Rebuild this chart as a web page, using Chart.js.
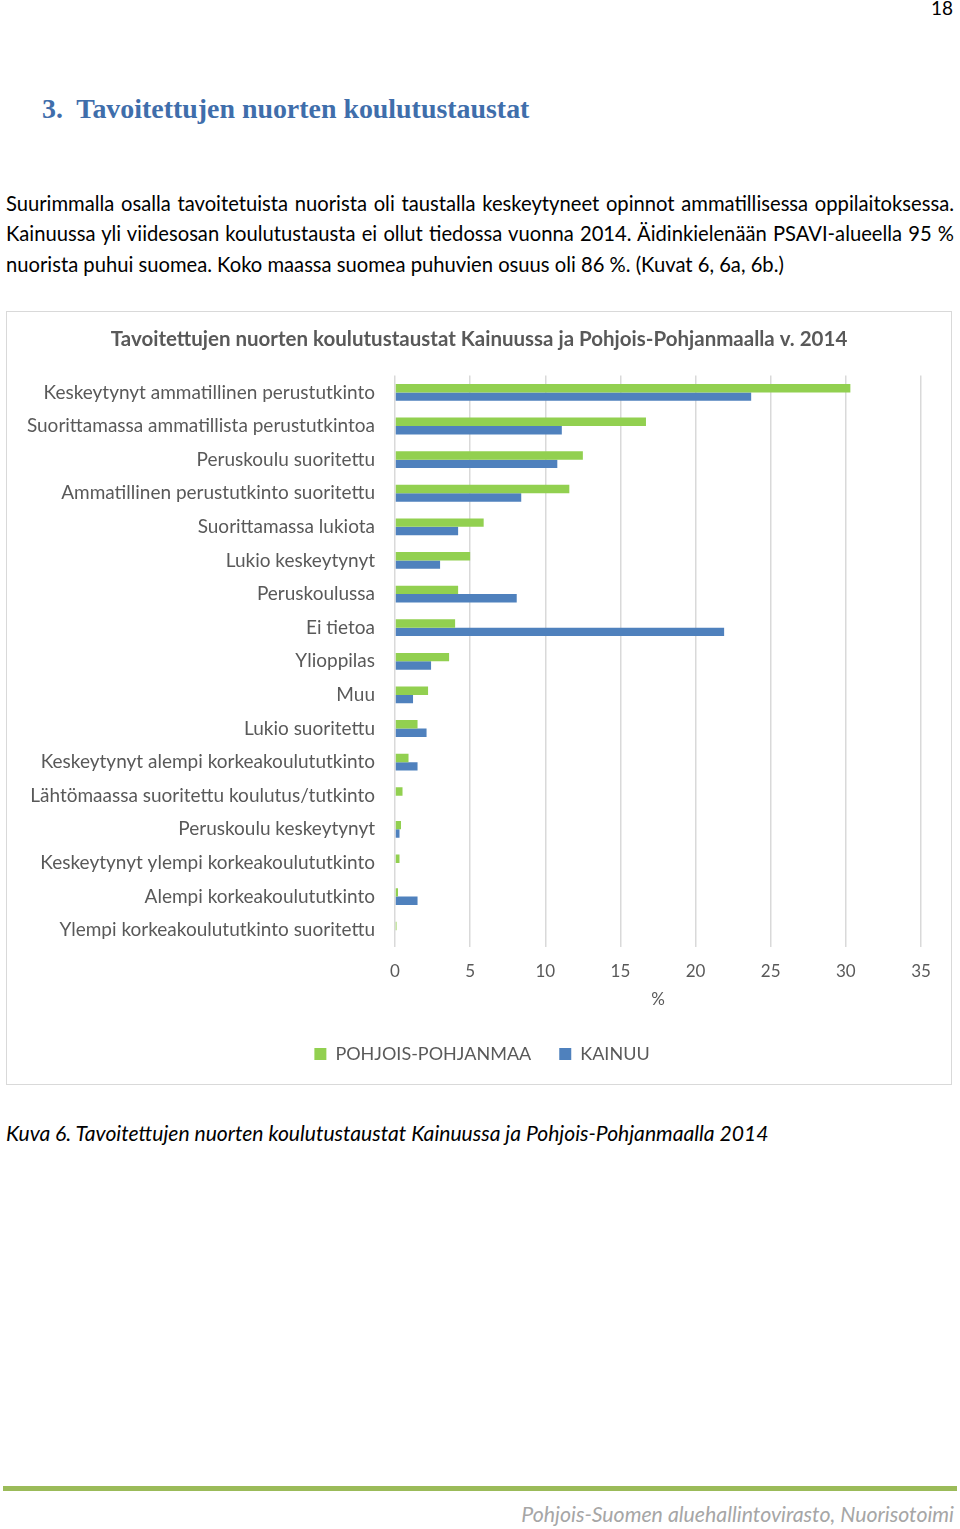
<!DOCTYPE html>
<html lang="fi">
<head>
<meta charset="utf-8">
<script src="https://cdn.jsdelivr.net/npm/chart.js@4.4.1/dist/chart.umd.min.js"></script>
<style>
  html, body { margin: 0; padding: 0; background: #fff; }
  body { width: 960px; height: 1529px; position: relative; font-family: Lato, "Open Sans", sans-serif; color: #000; overflow: hidden; }
  .pagenum { position: absolute; right: 7px; top: -4px; font-size: 19px; }
  h1 { position: absolute; left: 42px; top: 93px; margin: 0; font: bold 27.9px "Liberation Serif", "DejaVu Serif", serif; color: #3f6eab; }
  .para { position: absolute; left: 6px; top: 188px; width: 948px; font-size: 20.2px; line-height: 30.3px; }
  .para div { text-align: justify; text-align-last: justify; white-space: nowrap; }
  .para div.last { text-align-last: left; }
  .box { position: absolute; left: 6px; top: 311px; width: 944px; height: 772px; border: 1px solid #d9d9d9; }
  .box canvas { position: absolute; left: 0; top: 0; }
  .caption { position: absolute; left: 6px; top: 1120px; font-size: 21.1px; font-style: italic; }
  .rule { position: absolute; left: 3px; top: 1486px; width: 954px; height: 5px; background: #9bbb59; }
  .footer { position: absolute; right: 6px; top: 1501px; font-size: 21.3px; font-style: italic; color: #a6a6a6; }
</style>
</head>
<body>
<div class="pagenum">18</div>
<h1>3.&nbsp; Tavoitettujen nuorten koulutustaustat</h1>
<div class="para">
  <div>Suurimmalla osalla tavoitetuista nuorista oli taustalla keskeytyneet opinnot ammatillisessa oppilaitoksessa.</div>
  <div>Kainuussa yli viidesosan koulutustausta ei ollut tiedossa vuonna 2014. Äidinkielenään PSAVI-alueella 95 %</div>
  <div class="last">nuorista puhui suomea. Koko maassa suomea puhuvien osuus oli 86 %. (Kuvat 6, 6a, 6b.)</div>
</div>
<div class="box"><canvas id="chart" width="944" height="772"></canvas></div>
<div class="caption">Kuva 6. Tavoitettujen nuorten koulutustaustat Kainuussa ja Pohjois-Pohjanmaalla 2014</div>
<div class="rule"></div>
<div class="footer">Pohjois-Suomen aluehallintovirasto, Nuorisotoimi</div>

<script>
// Luokat (ylhäältä alas)
const categories = [
  'Keskeytynyt ammatillinen perustutkinto',
  'Suorittamassa ammatillista perustutkintoa',
  'Peruskoulu suoritettu',
  'Ammatillinen perustutkinto suoritettu',
  'Suorittamassa lukiota',
  'Lukio keskeytynyt',
  'Peruskoulussa',
  'Ei tietoa',
  'Ylioppilas',
  'Muu',
  'Lukio suoritettu',
  'Keskeytynyt alempi korkeakoulututkinto',
  'Lähtömaassa suoritettu koulutus/tutkinto',
  'Peruskoulu keskeytynyt',
  'Keskeytynyt ylempi korkeakoulututkinto',
  'Alempi korkeakoulututkinto',
  'Ylempi korkeakoulututkinto suoritettu'
];

// Osuudet, %
const pohjoisPohjanmaa = [30.3, 16.7, 12.5, 11.6, 5.9, 5.0, 4.2, 4.0, 3.6, 2.2, 1.5, 0.9, 0.5, 0.4, 0.3, 0.2, 0.1];
const kainuu = [23.7, 11.1, 10.8, 8.4, 4.2, 3.0, 8.1, 21.9, 2.4, 1.2, 2.1, 1.5, 0, 0.3, 0, 1.5, 0];

const xTicks = [0, 5, 10, 15, 20, 25, 30, 35];

const labelColor = '#595959';
const font = 'Lato, "Open Sans", sans-serif';

// Otsikko ja selite keskelle koko laatikkoa (ei vain piirtoalueen mukaan)
const centerBlocks = {
  id: 'centerBlocks',
  afterLayout(chart) {
    chart.legend.left += 18;
    chart.legend.right += 18;
    chart.titleBlock.left += 15;
    chart.titleBlock.right += 15;
  }
};

new Chart(document.getElementById('chart'), {
  type: 'bar',
  data: {
    labels: categories,
    datasets: [
      { label: 'POHJOIS-POHJANMAA', data: pohjoisPohjanmaa, backgroundColor: '#92d050' },
      { label: 'KAINUU', data: kainuu, backgroundColor: '#4f81bd' }
    ]
  },
  options: {
    indexAxis: 'y',
    responsive: false,
    animation: false,
    datasets: { bar: { categoryPercentage: 0.5, barPercentage: 1.0 } },
    layout: { padding: { left: 0, right: 30, top: 0, bottom: 11 } },
    plugins: {
      title: {
        display: true,
        text: 'Tavoitettujen nuorten koulutustaustat Kainuussa ja Pohjois-Pohjanmaalla v. 2014',
        color: labelColor,
        font: { family: font, size: 20.5, weight: 'bold' },
        padding: { top: 15, bottom: 24 }
      },
      legend: {
        position: 'bottom',
        labels: {
          color: labelColor,
          font: { family: font, size: 18 },
          boxWidth: 12,
          boxHeight: 12,
          padding: 28
        }
      },
      tooltip: { enabled: false }
    },
    scales: {
      x: {
        min: 0,
        max: 35,
        afterBuildTicks: (scale) => { scale.ticks = xTicks.map(v => ({ value: v })); },
        afterFit: (scale) => { scale.height = 70; },
        grid: { color: '#d9d9d9', lineWidth: 1.5, drawTicks: false },
        border: { display: false },
        ticks: { color: labelColor, font: { family: font, size: 17 }, padding: 14 },
        title: { display: true, text: '%', color: labelColor, font: { family: font, size: 17 }, padding: { top: 0, bottom: 7 } }
      },
      y: {
        afterFit: (scale) => { scale.width = 388; },
        grid: { display: false, drawTicks: false },
        border: { display: false },
        ticks: { color: labelColor, font: { family: font, size: 19 }, padding: 20, autoSkip: false }
      }
    }
  },
  plugins: [centerBlocks]
});
</script>
</body>
</html>
